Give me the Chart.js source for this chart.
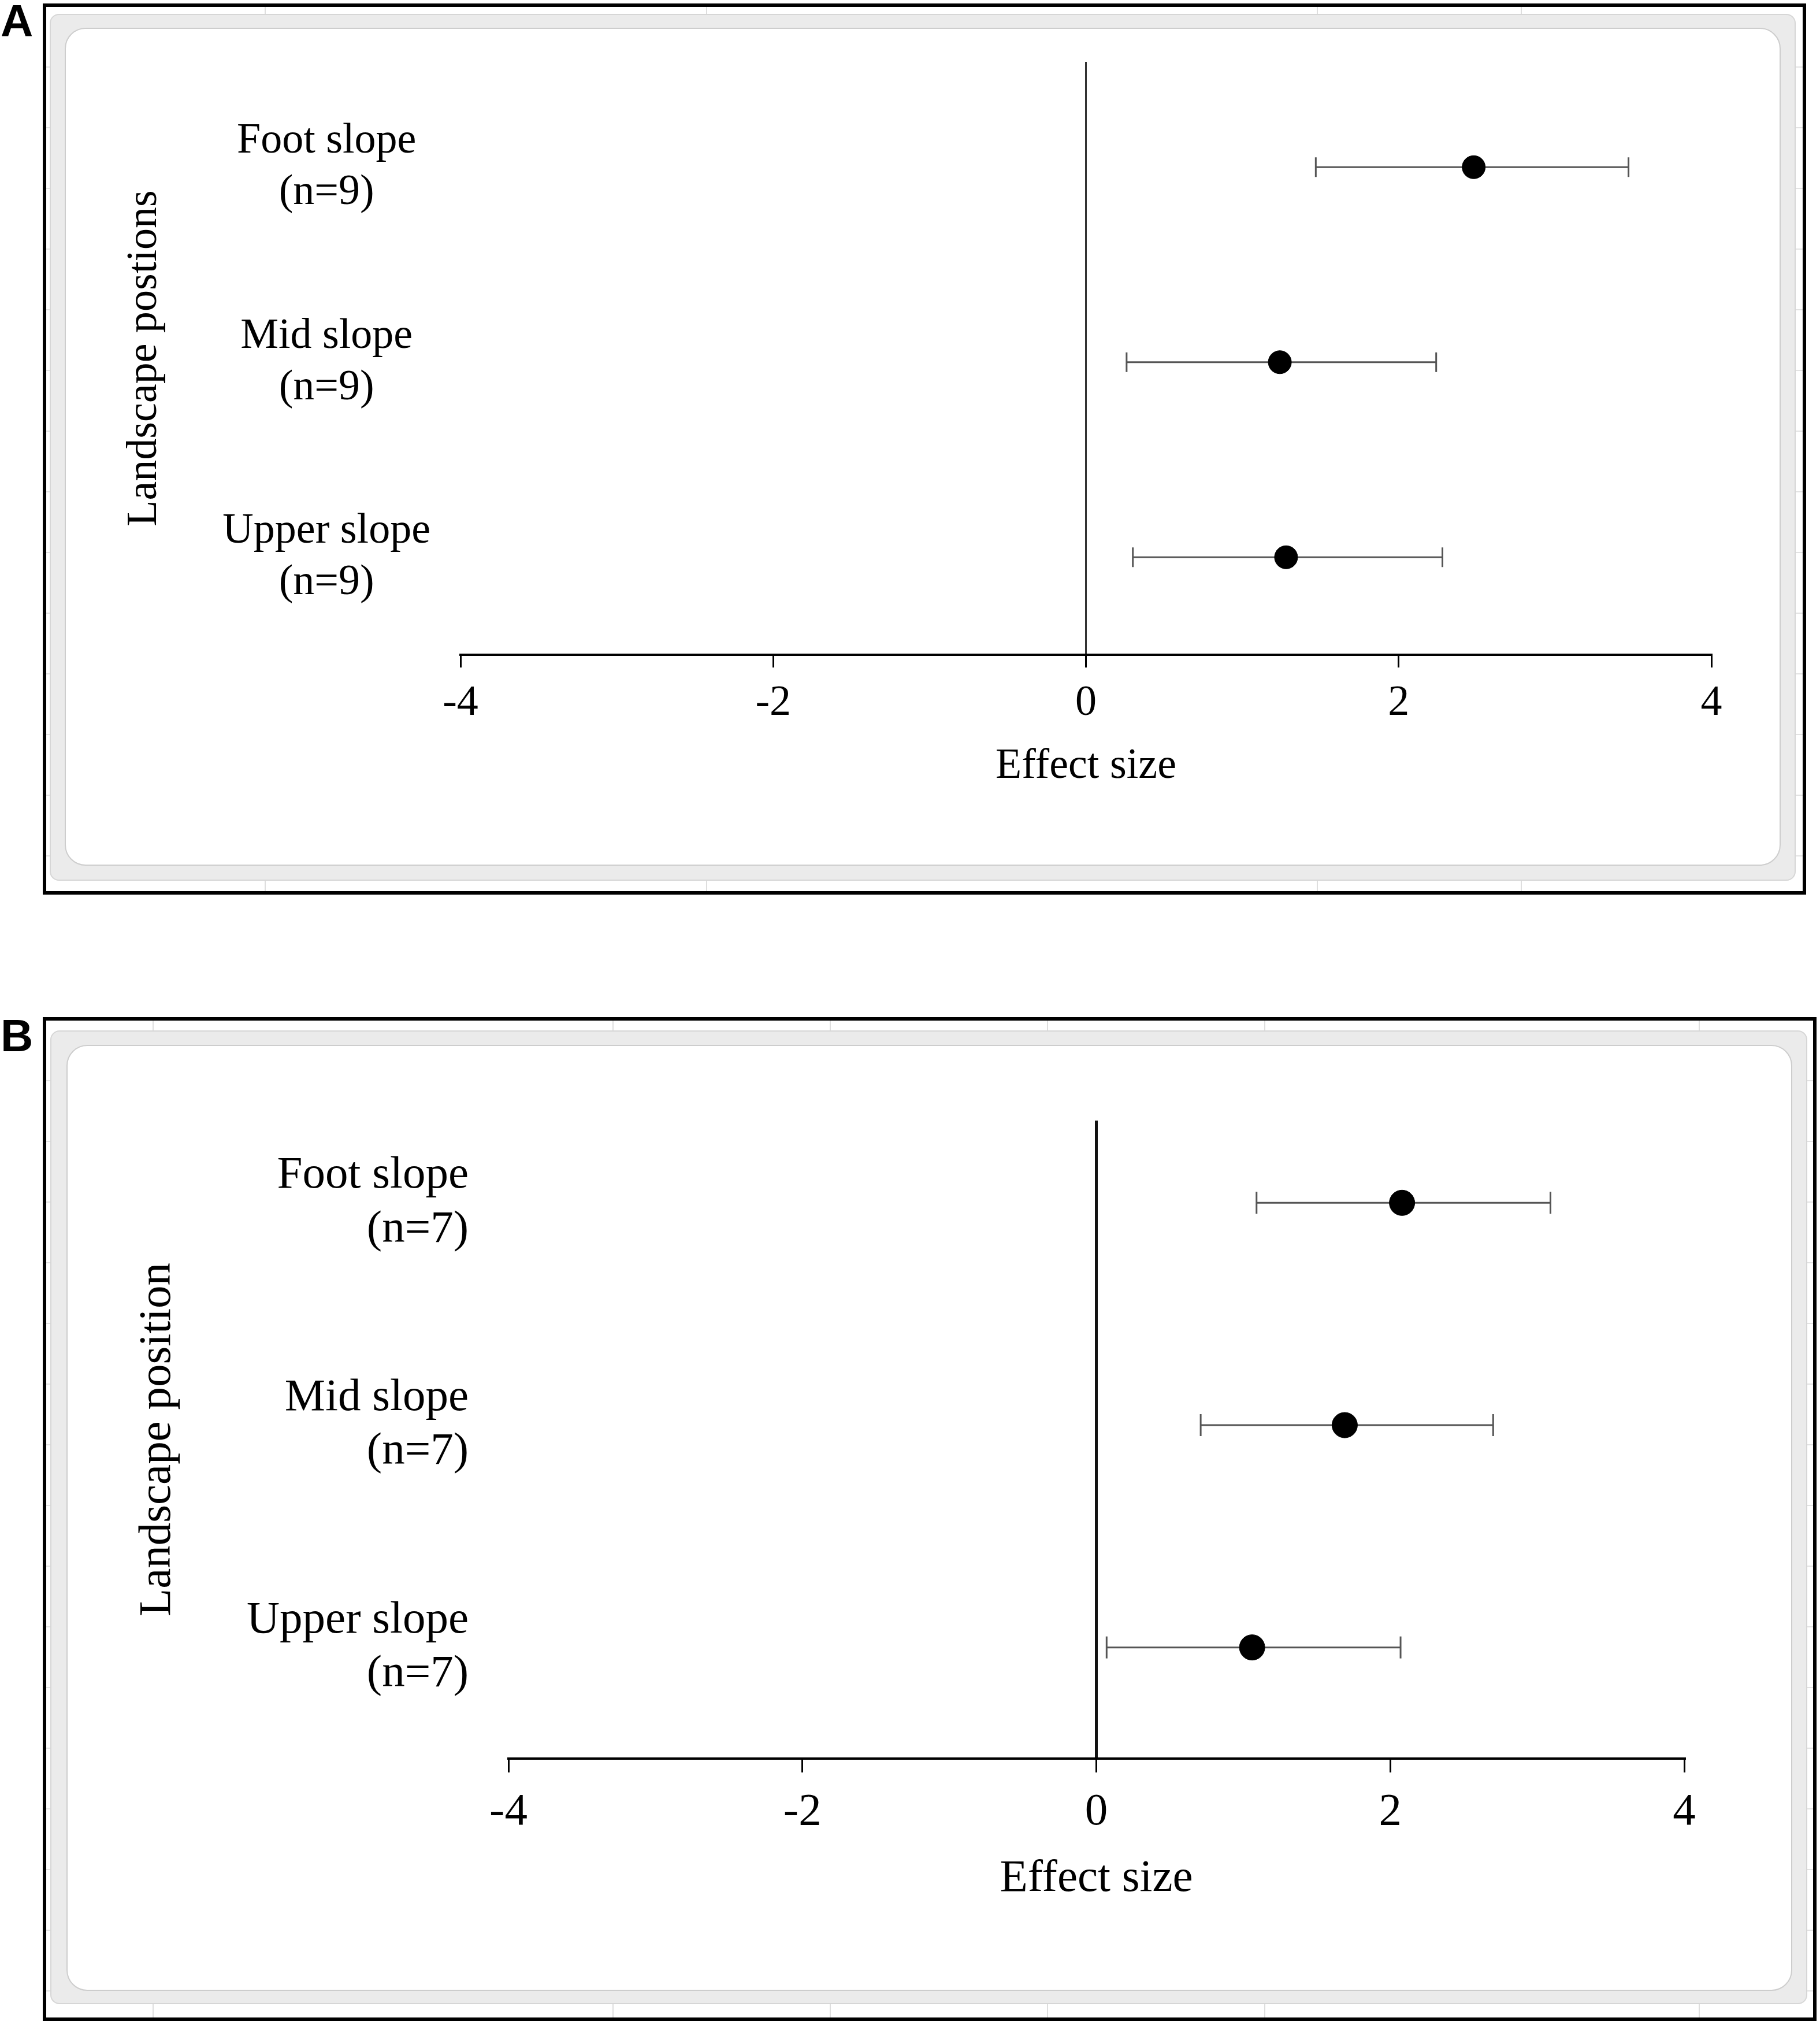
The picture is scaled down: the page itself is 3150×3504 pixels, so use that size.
<!DOCTYPE html>
<html>
<head>
<meta charset="utf-8">
<title>Effect size by landscape position</title>
<script src="https://cdn.jsdelivr.net/npm/chart.js@4.4.1/dist/chart.umd.min.js"></script>
<style>
  html, body { margin: 0; padding: 0; background: #fff; }
  body { position: relative; width: 3150px; height: 3504px; overflow: hidden; }
  .box { position: absolute; box-sizing: border-box; }
  /* faint spreadsheet cells showing around the chart object */
  .frame {
    border: 6px solid #000;
    background-color: #fff;
    background-image: repeating-linear-gradient(to bottom, transparent 0 103px, #e2e2e2 103px 105px);
  }
  .band { background: #ebebeb; border: 2px solid #d6d6d6; border-radius: 16px; }
  .inner { background: #fff; border: 2px solid #cdcdcd; border-radius: 36px; }
  .col { position: absolute; width: 2px; background: #dedede; }
  .tag { position: absolute; font: bold 78px 'Liberation Sans', Arial, sans-serif; line-height: 78px; color: #000; }
  canvas { position: absolute; left: 0; }
</style>
</head>
<body>
<!-- panel A frame -->
<div class="box frame" style="left:74px; top:6px; width:3052px; height:1542px;"></div>
<div class="col" style="left:458px; top:12px; height:1530px;"></div>
<div class="col" style="left:1222px; top:12px; height:1530px;"></div>
<div class="col" style="left:2279px; top:12px; height:1530px;"></div>
<div class="col" style="left:2632px; top:12px; height:1530px;"></div>
<div class="box band" style="left:86px; top:24px; width:3022px; height:1500px;"></div>
<div class="box inner" style="left:112px; top:48px; width:2970px; height:1450px;"></div>
<div class="tag" style="left:1px; top:-3px;">A</div>
<canvas id="chartA" width="3150" height="1560" style="top:0px;"></canvas>

<!-- panel B frame -->
<div class="box frame" style="left:74px; top:1760px; width:3070px; height:1737px;"></div>
<div class="col" style="left:264px; top:1766px; height:1725px;"></div>
<div class="col" style="left:1060px; top:1766px; height:1725px;"></div>
<div class="col" style="left:1436px; top:1766px; height:1725px;"></div>
<div class="col" style="left:1812px; top:1766px; height:1725px;"></div>
<div class="col" style="left:2188px; top:1766px; height:1725px;"></div>
<div class="col" style="left:2940px; top:1766px; height:1725px;"></div>
<div class="box band" style="left:87px; top:1783px; width:3041px; height:1685px;"></div>
<div class="box inner" style="left:115px; top:1808px; width:2987px; height:1637px;"></div>
<div class="tag" style="left:1px; top:1753px;">B</div>
<canvas id="chartB" width="3150" height="1754" style="top:1750px;"></canvas>

<script>
// Panel A data (n=9)
const labelsA = [['Foot slope', '(n=9)'], ['Mid slope', '(n=9)'], ['Upper slope', '(n=9)']];
const effectA = [2.48, 1.24, 1.28];
const lowerA = [1.47, 0.26, 0.30];
const upperA = [3.47, 2.24, 2.28];

// Panel B data (n=7)
const labelsB = [['Foot slope', '(n=7)'], ['Mid slope', '(n=7)'], ['Upper slope', '(n=7)']];
const effectB = [2.08, 1.69, 1.06];
const lowerB = [1.09, 0.71, 0.07];
const upperB = [3.09, 2.70, 2.07];

const xTicks = [-4, -2, 0, 2, 4];

const SERIF = "'Liberation Serif', 'Times New Roman', serif";

function makeChart(id, labels, effect, lower, upper, yTitle, look) {
    const datasets = [{
        data: effect.map((v, i) => ({ x: v, y: i + 1 })),
        pointRadius: look.dot,
        pointHoverRadius: look.dot,
        backgroundColor: '#000',
        borderColor: '#000',
        order: 0
    }];

    // one whisker per category, the caps are rotated line points
    labels.forEach((l, i) => {
        datasets.push({
            data: [{ x: lower[i], y: i + 1 }, { x: upper[i], y: i + 1 }],
            showLine: true,
            borderColor: '#555',
            borderWidth: 3,
            pointStyle: 'line',
            pointRotation: 90,
            pointRadius: look.cap,
            pointHoverRadius: look.cap,
            pointBorderColor: '#555',
            pointBorderWidth: 3,
            order: 1
        });
    });

    return new Chart(document.getElementById(id), {
        type: 'scatter',
        data: { datasets: datasets },
        options: {
            responsive: false,
            animation: false,
            devicePixelRatio: 1,
            events: [],
            layout: {
                padding: {
                    left: 0,
                    right: look.padRight,
                    top: look.top,
                    bottom: look.height - look.bottom - look.xH
                }
            },
            plugins: {
                legend: { display: false },
                tooltip: { enabled: false }
            },
            scales: {
                x: {
                    type: 'linear',
                    min: xTicks[0],
                    max: xTicks[xTicks.length - 1],
                    afterBuildTicks: s => { s.ticks = xTicks.map(v => ({ value: v })); },
                    afterFit: s => { s.height = look.xH; s.paddingLeft = 0; s.paddingRight = 0; },
                    border: { display: true, color: '#000', width: 4 },
                    grid: {
                        drawTicks: true,
                        tickLength: look.tick,
                        tickColor: '#000',
                        tickWidth: 3,
                        lineWidth: look.zeroW,
                        color: c => (c.tick && c.tick.value === 0) ? look.zeroC : 'rgba(0,0,0,0)'
                    },
                    ticks: {
                        color: '#000',
                        padding: look.tickPad,
                        maxRotation: 0,
                        minRotation: 0,
                        font: { family: SERIF, size: look.font, lineHeight: 1.2 }
                    },
                    title: {
                        display: true,
                        text: 'Effect size',
                        color: '#000',
                        padding: { top: 0, bottom: look.xTitlePad },
                        font: { family: SERIF, size: look.font, lineHeight: 1.2 }
                    }
                },
                y: {
                    type: 'linear',
                    reverse: true,
                    min: look.yMin,
                    max: look.yMax,
                    afterBuildTicks: s => { s.ticks = labels.map((l, i) => ({ value: i + 1 })); },
                    afterFit: s => { s.width = look.left; s.paddingTop = 0; s.paddingBottom = 0; },
                    border: { display: false },
                    grid: { display: false, drawTicks: false },
                    ticks: {
                        color: '#000',
                        crossAlign: look.align,
                        padding: look.labelPad,
                        callback: v => labels[v - 1],
                        font: { family: SERIF, size: look.font, lineHeight: look.labelLH }
                    },
                    title: {
                        display: true,
                        text: yTitle,
                        color: '#000',
                        padding: { top: look.yTitlePad, bottom: 0 },
                        font: { family: SERIF, size: look.font, lineHeight: 1.2 }
                    }
                }
            }
        }
    });
}

makeChart('chartA', labelsA, effectA, lowerA, upperA, 'Landscape postions', {
    height: 1560, left: 797, padRight: 188, top: 107, bottom: 1133, xH: 300,
    yMin: 0.46, yMax: 3.5, font: 74, labelLH: 1.2, align: 'center', labelPad: 52,
    tick: 22, tickPad: 18, xTitlePad: 62, yTitlePad: 206,
    dot: 20, cap: 17, zeroW: 3, zeroC: '#333'
});

makeChart('chartB', labelsB, effectB, lowerB, upperB, 'Landscape position', {
    height: 1754, left: 880, padRight: 235, top: 189, bottom: 1293, xH: 320,
    yMin: 0.63, yMax: 3.5, font: 79, labelLH: 1.18, align: 'near', labelPad: 69,
    tick: 24, tickPad: 22, xTitlePad: 64, yTitlePad: 226,
    dot: 22, cap: 19, zeroW: 5, zeroC: '#111'
});
</script>
</body>
</html>
